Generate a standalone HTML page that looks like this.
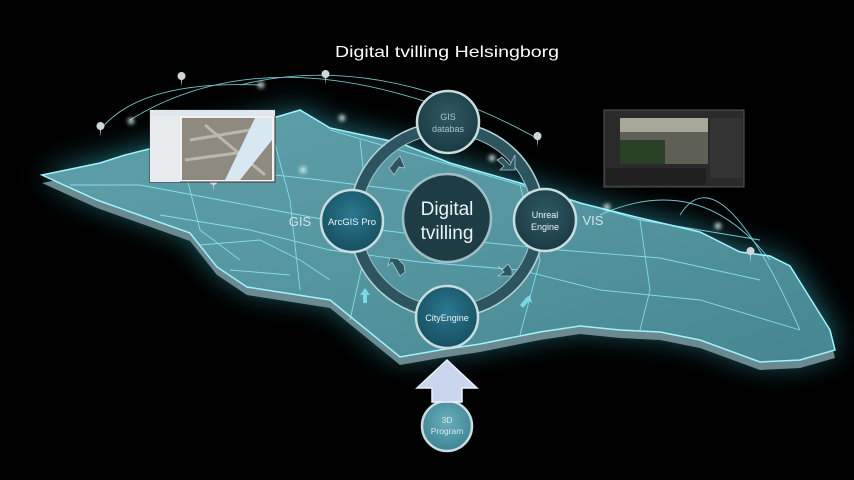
<!DOCTYPE html>
<html><head><meta charset="utf-8"><style>
html,body{margin:0;padding:0;background:#000;}
svg{display:block;}
text{font-family:"Liberation Sans",sans-serif;}
</style></head><body>
<svg width="854" height="480" viewBox="0 0 854 480" xmlns="http://www.w3.org/2000/svg">
<defs>
<filter id="blur" x="-30%" y="-30%" width="160%" height="160%"><feGaussianBlur stdDeviation="16"/></filter>
<filter id="sblur"><feGaussianBlur stdDeviation="2"/></filter>
<linearGradient id="mapg" x1="0" y1="0" x2="1" y2="1">
<stop offset="0" stop-color="#5f9fa9"/><stop offset="0.5" stop-color="#5596a0"/><stop offset="1" stop-color="#468690"/></linearGradient>
<radialGradient id="cg" cx="0.5" cy="0.4" r="0.6"><stop offset="0" stop-color="#2f5a63"/><stop offset="1" stop-color="#1b3a42"/></radialGradient>
<radialGradient id="cb" cx="0.5" cy="0.4" r="0.6"><stop offset="0" stop-color="#2a7890"/><stop offset="1" stop-color="#174e60"/></radialGradient>
<radialGradient id="c3" cx="0.5" cy="0.4" r="0.6"><stop offset="0" stop-color="#6aaebd"/><stop offset="1" stop-color="#3e8494"/></radialGradient>
</defs>
<rect width="854" height="480" fill="#000"/>
<!-- glow -->
<polygon filter="url(#blur)" fill="#2a8794" opacity="0.9" points="42,175 100,163 125,155 280,116 300,110 330,128 400,143 450,163 520,183 580,203 640,218 700,232 740,252 770,256 790,266 810,298 830,330 835,350 800,360 760,362 700,340 660,332 620,330 580,326 540,332 480,344 440,350 400,357 330,300 247,287 217,267 190,233 97,200"/>
<!-- extrusion -->
<polygon fill="#6a8a90" points="42,183 100,171 125,163 280,124 300,118 330,136 400,151 450,171 520,191 580,211 640,226 700,240 740,260 770,264 790,274 810,306 830,338 835,358 800,368 760,370 700,348 660,340 620,338 580,334 540,340 480,352 440,358 400,365 330,308 247,295 217,275 190,241 97,208"/>
<!-- map top -->
<polygon fill="url(#mapg)" stroke="#9ff4ff" stroke-width="1.5" points="42,175 100,163 125,155 280,116 300,110 330,128 400,143 450,163 520,183 580,203 640,218 700,232 740,252 770,256 790,266 810,298 830,330 835,350 800,360 760,362 700,340 660,332 620,330 580,326 540,332 480,344 440,350 400,357 330,300 247,287 217,267 190,233 97,200"/>
<!-- map lines -->
<g stroke="#8ff0fb" stroke-width="0.9" fill="none" opacity="0.8">
<path d="M70,185 L140,185 L220,200 L300,215 L380,230 L460,240 L560,250 L660,258 L760,280"/>
<path d="M160,215 L250,230 L330,250 L420,262 L520,270 L600,290 L700,300 L800,330"/>
<path d="M180,150 L200,230 L240,260"/>
<path d="M270,125 L290,200 L300,290"/>
<path d="M200,245 L260,240 L300,260 L330,280"/>
<path d="M230,270 L290,275"/>
<path d="M360,140 L370,230 L350,320"/>
<path d="M520,185 L540,260 L520,335"/>
<path d="M640,220 L650,290 L640,330"/>
<path d="M150,180 L230,170 L320,180 L400,190 L480,200"/>
<path d="M130,120 Q260,40 450,110"/>
<path d="M240,85 Q380,50 540,140"/>
<path d="M600,215 Q700,170 770,260"/>
<path d="M680,215 Q720,150 800,330"/>
<path d="M100,130 Q140,80 260,85"/>
<path d="M330,130 L640,220 L760,240"/>
</g>
<g fill="#e8ffff" filter="url(#sblur)">
<circle cx="131" cy="121" r="3"/><circle cx="261" cy="85" r="3"/><circle cx="342" cy="118" r="3"/><circle cx="303" cy="170" r="3"/><circle cx="607" cy="207" r="3"/><circle cx="718" cy="226" r="3"/><circle cx="492" cy="158" r="3"/>
</g>
<!-- pins -->
<g fill="#cfd6d8">
<path d="M181,80 a4,4 0 1,1 1,0 l-0.5,7z"/><path d="M325,78 a4,4 0 1,1 1,0 l-0.5,7z"/><path d="M100,130 a4,4 0 1,1 1,0 l-0.5,7z"/><path d="M213,185 a4,4 0 1,1 1,0 l-0.5,7z"/><path d="M537,140 a4,4 0 1,1 1,0 l-0.5,7z"/><path d="M750,255 a4,4 0 1,1 1,0 l-0.5,8z"/>
</g>
<!-- screenshots -->
<rect x="150" y="110" width="125" height="72" fill="#f2f2f2" stroke="#333" stroke-width="1"/>
<rect x="150" y="110" width="125" height="6" fill="#dfe6ee"/>
<rect x="150" y="116" width="30" height="66" fill="#e8ecef"/>
<rect x="182" y="118" width="90" height="62" fill="#8e8a80"/>
<path d="M205,125 L265,175 M190,140 L250,130 M185,160 L260,150" stroke="#bdb6aa" stroke-width="3"/>
<path d="M255,118 L272,118 L272,140 L240,180 L225,180 Z" fill="#d8e8f2"/>
<rect x="604" y="110" width="140" height="77" fill="#2a2a2a" stroke="#555"/>
<rect x="620" y="118" width="88" height="46" fill="#5e5f55"/>
<rect x="620" y="140" width="45" height="24" fill="#2a4026"/>
<rect x="620" y="118" width="88" height="14" fill="#a8a698"/>
<rect x="710" y="118" width="32" height="60" fill="#333"/>
<rect x="606" y="168" width="100" height="17" fill="#1f1f1f"/>
<!-- ring -->
<circle cx="447" cy="220" r="92" fill="none" stroke="#2d5560" stroke-width="11"/>
<circle cx="447" cy="220" r="98" fill="none" stroke="#b8d3d8" stroke-width="1.5"/>
<circle cx="447" cy="220" r="86" fill="none" stroke="#9fc3ca" stroke-width="1"/>
<!-- small arrows -->
<g fill="#2d5560" stroke="#a8c8ce" stroke-width="0.8">
<polygon points="502,157 510,165 515,155 515,170 500,170 504,166 497,160"/>
<polygon points="502,270 508,264 512,270 512,276 498,276 504,272 498,266"/>
<polygon points="398,259 404,265 405,272 400,276 392,262 388,266 390,258"/>
<polygon points="394,162 400,156 405,168 399,167 394,175 389,168 392,165"/>
</g>
<g fill="#7fe6f2" opacity="0.85"><polygon points="360,295 365,288 370,295 367,295 367,303 363,303 363,295"/><polygon points="523,300 530,295 532,303 529,301 523,308 520,305 526,298"/></g>
<!-- nodes -->
<g stroke="#c8dde0" stroke-width="2.5">
<circle cx="448" cy="122" r="31" fill="url(#cg)"/>
<circle cx="352" cy="221" r="31" fill="url(#cb)"/>
<circle cx="545" cy="220" r="31" fill="url(#cg)"/>
<circle cx="447" cy="317" r="31" fill="url(#cb)"/>
<circle cx="447" cy="218" r="44" fill="#1e3c43" stroke="#9fbfc5"/>
<circle cx="447" cy="426" r="25" fill="url(#c3)"/>
</g>
<!-- big arrow -->
<polygon points="447,360 477,388 462,388 462,402 432,402 432,388 417,388" fill="#c9d6ee" stroke="#eef2fb" stroke-width="1.5"/>
<!-- labels -->
<g fill="#e9f4f6" text-anchor="middle">
<text x="447" y="57" font-size="16" fill="#fff" textLength="224" lengthAdjust="spacingAndGlyphs">Digital tvilling Helsingborg</text>
<text x="448" y="120" font-size="9" fill="#a9c2c6">GIS</text>
<text x="448" y="132" font-size="9" fill="#a9c2c6">databas</text>
<text x="352" y="225" font-size="9.5">ArcGIS Pro</text>
<text x="545" y="218" font-size="9">Unreal</text>
<text x="545" y="230" font-size="9">Engine</text>
<text x="447" y="321" font-size="9">CityEngine</text>
<text x="447" y="215" font-size="19">Digital</text>
<text x="447" y="239" font-size="19">tvilling</text>
<text x="447" y="423" font-size="8.5" fill="#d5e8ec">3D</text>
<text x="447" y="434" font-size="8.5" fill="#d5e8ec">Program</text>
<text x="300" y="226" font-size="13" fill="#d0e4e8">GIS</text>
<text x="593" y="225" font-size="13" fill="#d0e4e8">VIS</text>
</g>
</svg>
</body></html>
